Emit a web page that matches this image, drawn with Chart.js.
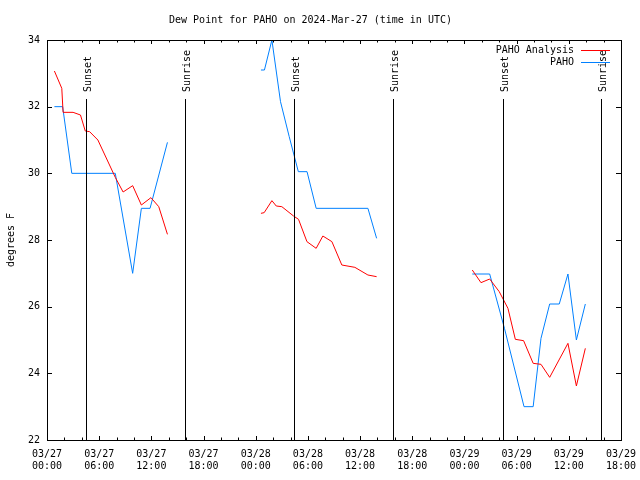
<!DOCTYPE html>
<html>
<head>
<meta charset="utf-8">
<script src="https://cdn.jsdelivr.net/npm/chart.js@4.4.1/dist/chart.umd.min.js"></script>
<style>
  html, body { margin: 0; padding: 0; background: #ffffff; }
  #wrap { width: 640px; height: 480px; }
</style>
</head>
<body>
<div id="wrap"><canvas id="c" width="640" height="480"></canvas></div>
<script>
// Hours since 2024-03-27 00:00 UTC; null marks a gap between segments
const analysisTimes = [0.85, 1.7, 1.85, 3.0, 3.85, 4.4, 4.9, 5.85, 7.85, 8.75, 9.85, 10.85, 11.95, 12.85, 13.85,
  20,
  24.6, 24.97, 25.86, 26.36, 27.0, 28.35, 28.92, 29.89, 30.95, 31.72, 32.76, 33.9, 35.4, 36.9, 37.9,
  44,
  48.9, 49.9, 50.9, 52.0, 53.0, 53.85, 54.8, 55.9, 56.8, 57.8, 59.9, 60.87, 61.9];
const analysisValues = [33.07, 32.55, 31.83, 31.83, 31.75, 31.27, 31.25, 31.0, 29.88, 29.44, 29.63, 29.05, 29.27, 29.0, 28.17,
  null,
  28.8, 28.82, 29.18, 29.02, 29.0, 28.72, 28.62, 27.95, 27.75, 28.12, 27.95, 27.25, 27.18, 26.95, 26.9,
  null,
  27.1, 26.72, 26.83, 26.45, 25.95, 25.02, 24.98, 24.3, 24.27, 23.88, 24.9, 23.62, 24.75];

const obsTimes = [0.85, 1.8, 2.85, 7.85, 9.85, 10.85, 11.85, 13.85,
  20,
  24.6, 25.0, 25.86, 26.85, 27.85, 28.9, 29.9, 30.95, 36.9, 37.9,
  44,
  48.9, 50.9, 52.6, 54.85, 55.9, 56.8, 57.8, 58.9, 59.9, 60.87, 61.9];
const obsValues = [32.0, 32.0, 30.0, 30.0, 27.0, 28.95, 28.95, 30.93,
  null,
  33.1, 33.1, 34.0, 32.15, 31.1, 30.05, 30.05, 28.95, 28.95, 28.05,
  null,
  26.98, 26.98, 25.35, 23.0, 23.0, 25.05, 26.08, 26.08, 26.98, 25.0, 26.08];

const sunsetTimes = [4.43, 28.45, 52.45];
const sunriseTimes = [15.85, 39.8, 63.7];

const xTickLabels = [
  ["03/27", "00:00"], ["03/27", "06:00"], ["03/27", "12:00"], ["03/27", "18:00"],
  ["03/28", "00:00"], ["03/28", "06:00"], ["03/28", "12:00"], ["03/28", "18:00"],
  ["03/29", "00:00"], ["03/29", "06:00"], ["03/29", "12:00"], ["03/29", "18:00"]
];
const seriesNames = ["PAHO Analysis", "PAHO"];
const seriesColors = ["#ff0000", "#0080ff"];

const FONT = "'DejaVu Sans Mono', 'Liberation Mono', monospace";

function pts(ts, vs) { return ts.map((t, i) => ({ x: t, y: vs[i] })); }

const decorPlugin = {
  id: 'decor',
  afterDatasetsDraw(chart) {
    const ctx = chart.ctx;
    const a = chart.chartArea;
    const xs = chart.scales.x, ys = chart.scales.y;
    ctx.save();
    ctx.strokeStyle = '#000';
    ctx.lineWidth = 1;
    ctx.fillStyle = '#000';
    ctx.font = '10px ' + FONT;
    const drawEvent = (t, label) => {
      const px = Math.round(xs.getPixelForValue(t)) + 0.5;
      ctx.beginPath();
      ctx.moveTo(px, 99);
      ctx.lineTo(px, a.bottom);
      ctx.stroke();
      ctx.save();
      ctx.translate(px + 1.5, 92);
      ctx.rotate(-Math.PI / 2);
      ctx.textAlign = 'left';
      ctx.textBaseline = 'middle';
      ctx.fillText(label, 0, 0);
      ctx.restore();
    };
    sunsetTimes.forEach(t => drawEvent(t, 'Sunset'));
    sunriseTimes.forEach(t => drawEvent(t, 'Sunrise'));

    ctx.strokeStyle = '#000';
    ctx.strokeRect(Math.round(a.left) + 0.5, Math.round(a.top) + 0.5,
      Math.round(a.right - a.left), Math.round(a.bottom - a.top));

    ctx.beginPath();
    for (let h = xs.min; h <= xs.max; h += 2) {
      const px = Math.round(xs.getPixelForValue(h)) + 0.5;
      const len = (h % 6 === 0) ? 4 : 2.5;
      ctx.moveTo(px, a.bottom); ctx.lineTo(px, a.bottom - len);
      ctx.moveTo(px, a.top); ctx.lineTo(px, a.top + len);
    }
    for (let v = ys.min; v <= ys.max; v += 2) {
      const py = Math.round(ys.getPixelForValue(v)) + 0.5;
      ctx.moveTo(a.left, py); ctx.lineTo(a.left + 5, py);
      ctx.moveTo(a.right, py); ctx.lineTo(a.right - 5, py);
    }
    ctx.stroke();

    ctx.font = '10px ' + FONT;
    ctx.textAlign = 'right';
    ctx.textBaseline = 'middle';
    seriesNames.forEach((name, i) => {
      const y = 50 + i * 12;
      ctx.fillStyle = '#000';
      ctx.fillText(name, 574, y);
      ctx.strokeStyle = seriesColors[i];
      ctx.beginPath();
      ctx.moveTo(581, y + 0.5);
      ctx.lineTo(610, y + 0.5);
      ctx.stroke();
    });
    ctx.restore();
  }
};

new Chart(document.getElementById('c'), {
  type: 'line',
  data: {
    datasets: [
      { label: seriesNames[0], data: pts(analysisTimes, analysisValues), borderColor: seriesColors[0],
        borderWidth: 1, pointRadius: 0, fill: false, spanGaps: false, tension: 0 },
      { label: seriesNames[1], data: pts(obsTimes, obsValues), borderColor: seriesColors[1],
        borderWidth: 1, pointRadius: 0, fill: false, spanGaps: false, tension: 0 }
    ]
  },
  options: {
    responsive: false,
    animation: false,
    devicePixelRatio: 1,
    layout: { padding: { left: 0, right: 19, top: 0, bottom: 0 } },
    plugins: {
      legend: { display: false },
      tooltip: { enabled: false },
      title: {
        display: true,
        text: 'Dew Point for PAHO on 2024-Mar-27 (time in UTC)',
        color: '#000',
        font: { family: FONT, size: 10, weight: 'normal' },
        padding: { top: 14, bottom: 14 }
      }
    },
    scales: {
      x: {
        type: 'linear',
        min: 0, max: 66,
        grid: { display: false, drawTicks: false },
        border: { display: false },
        ticks: {
          stepSize: 6,
          autoSkip: false,
          maxRotation: 0,
          padding: 8,
          color: '#000',
          font: { family: FONT, size: 10 },
          callback: function (value, index) { return xTickLabels[Math.round(value / 6)] || ''; }
        },
        afterFit: function (scale) { scale.height = 40; scale.paddingLeft = 0; scale.paddingRight = 0; }
      },
      y: {
        min: 22, max: 34,
        grid: { display: false, drawTicks: false },
        border: { display: false },
        ticks: {
          stepSize: 2,
          padding: 7,
          color: '#000',
          font: { family: FONT, size: 10 }
        },
        title: {
          display: true,
          text: 'degrees F',
          color: '#000',
          font: { family: FONT, size: 10 },
          padding: { top: 5, bottom: 0 }
        },
        afterFit: function (scale) { scale.width = 47; scale.paddingTop = 0; scale.paddingBottom = 0; }
      }
    }
  },
  plugins: [decorPlugin]
});
</script>
</body>
</html>
